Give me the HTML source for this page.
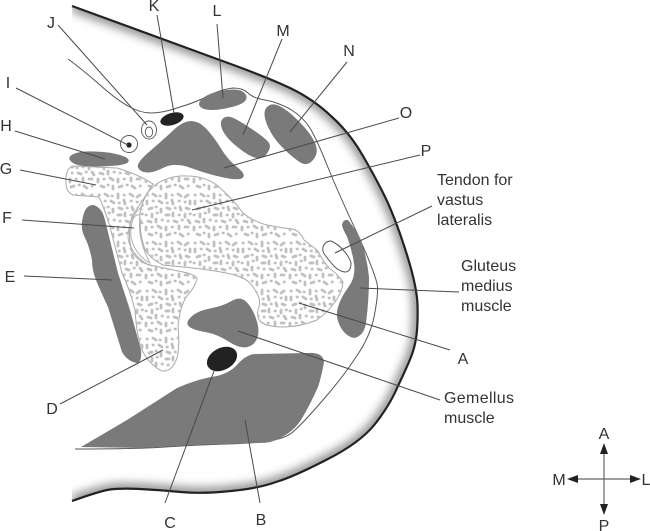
<!DOCTYPE html>
<html><head><meta charset="utf-8"><style>
html,body{margin:0;padding:0;background:#fff;width:650px;height:531px;overflow:hidden}
svg{display:block}
text{font-family:"Liberation Sans",sans-serif;font-size:16px;fill:#333}
.c{text-anchor:middle}
.l{stroke:#4a4a4a;stroke-width:1;fill:none}
</style></head><body>
<svg width="650" height="531" viewBox="0 0 650 531" xmlns="http://www.w3.org/2000/svg">
<defs>
<filter id="bl" x="-20%" y="-20%" width="140%" height="140%" color-interpolation-filters="sRGB"><feGaussianBlur stdDeviation="5"/></filter>
<clipPath id="body"><path d="M72,6 L217,59 Q267,77 290,88 Q313,99 331,116 Q350,133 363,156 Q377,180 387,201 Q397,223 407,255 Q417,287 417.5,305 Q418,323 416.5,335 Q415,347 411,357 Q407,367 398,386 Q390,405 375,424 Q360,443 326,460 Q293,477 276,482 Q260,488 231,491 Q203,494 181,492 Q160,490 140,489 Q120,488 110,489.5 Q100,491 72,501 Z"/></clipPath>
<clipPath id="gd"><path d="M72,166 L117,168 Q140,175 153,184 Q140,205 132,216 Q127,235 132,252 Q140,263 150,265 L183,272 Q197,275 197,279 Q195,287 187,296 Q180,305 178,327 Q180,345 177,358 Q172,372 162,371 Q150,365 143,352 Q137,340 135,310 Q130,290 122,273 L110,227 Q105,210 99,197 Q85,196 73,195 Q66,192 66,183 Q65,170 72,166Z"/></clipPath>
<clipPath id="pp"><path d="M140,213 Q143,195 155,185 Q170,175 187,176 Q205,176 218,186 Q232,198 243,213 Q254,222 267,225 Q282,228 293,229 Q301,232 304,240 Q312,246 318,251 Q322,260 329,268 Q338,274 343,282 Q342,293 335,302 Q327,313 317,320 Q300,327 283,327 Q270,327 262,323 Q256,318 258,310 Q262,300 256,292 Q250,280 240,277 Q228,272 193,268 L163,265 Q152,260 145,250 Q139,232 140,213Z"/></clipPath>
<pattern id="st" width="48" height="48" patternUnits="userSpaceOnUse">
<path d="M3,3l.4,0M9,2l3,2M16,4l.4,0M22,2l0,4M28,3l.4,0M34,2l3,2M41,5l3,-2M3,9l0,3M9,9l.4,0M15,9l3,2M23,11l.4,0M28,8l1,4M35,9l.4,0M41,10l.4,0M46,9l0,3M5,17l3,-1M12,15l.4,0M17,17l0,3M23,16l3,1M31,16l.4,0M36,15l1,3M42,16l3,1M2,23l.4,0M8,22l0,3M13,21l.4,0M22,23l3,0M29,21l0,3M35,23l.4,0M41,22l0,3M46,22l.4,0M4,29l3,1M12,27l0,3M18,28l.4,0M24,29l.4,0M30,29l3,1M38,28l.4,0M44,28l2,3M2,35l0,3M8,35l.4,0M14,34l3,2M22,35l0,3M28,35l.4,0M35,34l0,3M41,35l3,0M5,42l3,1M12,41l.4,0M17,42l0,3M23,43l3,-1M31,41l.4,0M36,42l3,2M44,42l.4,0" stroke="#c0c0c0" stroke-width="2.8" stroke-linecap="round" fill="none"/>
</pattern>
</defs>

<!-- skin shading -->
<g clip-path="url(#body)"><path d="M72,6 L217,59 Q267,77 290,88 Q313,99 331,116 Q350,133 363,156 Q377,180 387,201 Q397,223 407,255 Q417,287 417.5,305 Q418,323 416.5,335 Q415,347 411,357 Q407,367 398,386 Q390,405 375,424 Q360,443 326,460 Q293,477 276,482 Q260,488 231,491 Q203,494 181,492 Q160,490 140,489 Q120,488 110,489.5 Q100,491 72,501" fill="none" stroke="#7a7a7a" stroke-width="9" filter="url(#bl)"/></g>
<path d="M72,6 L217,59 Q267,77 290,88 Q313,99 331,116 Q350,133 363,156 Q377,180 387,201 Q397,223 407,255 Q417,287 417.5,305 Q418,323 416.5,335 Q415,347 411,357 Q407,367 398,386 Q390,405 375,424 Q360,443 326,460 Q293,477 276,482 Q260,488 231,491 Q203,494 181,492 Q160,490 140,489 Q120,488 110,489.5 Q100,491 72,501" fill="none" stroke="#222" stroke-width="2.2"/>

<!-- fascia -->
<path d="M68,59 Q83,70 100,85 Q117,100 128,106 Q140,113 151,113 Q163,113 180,107 Q197,102 210,95 Q223,89 233,88 Q243,88 248,93 Q253,98 265,100 Q277,102 290,109 Q303,117 310,128 Q317,140 327,165 Q337,190 357,233 Q377,277 377.5,287 Q378,297 374,317 Q370,337 356,357 Q343,377 323,400 Q303,423 295,430 Q287,438 273,440 Q260,443 226,444 Q193,445 165,447 Q137,449 75,449" fill="none" stroke="#555" stroke-width="1"/>

<!-- muscles -->
<g fill="#7a7a7a">
<path d="M203,98 Q209,93 223,90.5 Q237,88 242.5,91.5 Q248,95 246,99.5 Q244,104 232,107 Q220,110 211.5,110 Q203,110 200,106.5 Q197,103 203,98Z"/>
<path d="M223,118.5 Q227,115 233.5,118 Q240,121 254,130.5 Q268,140 269.5,144 Q271,148 267,153.5 Q263,159 256.5,158 Q250,157 238,147.5 Q226,138 222.5,130 Q219,122 223,118.5Z"/>
<path d="M267,107 Q272,102 280.5,106.5 Q289,111 300.5,123 Q312,135 315.5,144 Q319,153 313,160 Q307,167 299.5,162 Q292,157 282,147 Q272,137 267,124.5 Q262,112 267,107Z"/>
<path d="M149.5,151.5 Q163,140 173,130.5 Q183,121 191,121 Q199,121 206.5,129 Q214,137 221,148.5 Q228,160 237,167 Q246,174 243,177.5 Q240,181 223.5,177.5 Q207,174 191,168 Q175,162 164,167.5 Q153,173 146.5,172.5 Q140,172 138,167.5 Q136,163 149.5,151.5Z"/>
<path d="M73.5,154 Q80,151 95,151.5 Q110,152 120,155 Q130,158 128.5,161.5 Q127,165 110,166 Q93,167 83.5,166 Q74,165 70.5,161 Q67,157 73.5,154Z"/>
<path d="M82,222 Q84,205 93,205 Q102,207 105,220 L118,273 L130,310 L141,350 Q142,362 137,363 Q128,362 122,352 L108,307 Q100,290 96,280 Q92,270 92,260 Q89,245 85,238 Q81,230 82,222Z"/>
<path d="M191,317 Q197,311 210,308.5 Q223,306 231.5,301 Q240,296 246,301.5 Q252,307 256,318.5 Q260,330 257.5,337.5 Q255,345 247.5,347 Q240,349 228.5,341.5 Q217,334 205,332 Q193,330 189,326.5 Q185,323 191,317Z"/>
<path d="M81,447 L127,420 L177,388 Q197,379 217,376 Q229,373 236,366 Q246,354 256,354 L308,353 Q323,352 324,362 Q322,375 318,387 Q310,405 301,420 Q293,432 280,438 Q272,443 260,443 L193,445 L140,448 Z"/>
<path d="M342,225 Q343,219 348,220 Q356,230 361,240 Q367,258 369,277 Q369,300 366,323 Q364,336 354,338 Q345,336 340,326 Q335,316 338,307 Q341,297 348.5,287 Q356,277 354,263.5 Q352,250 347,236.5 Q343,230 342,225Z"/>
</g>

<!-- bones -->
<path d="M72,166 L117,168 Q140,175 153,184 Q140,205 132,216 Q127,235 132,252 Q140,263 150,265 L183,272 Q197,275 197,279 Q195,287 187,296 Q180,305 178,327 Q180,345 177,358 Q172,372 162,371 Q150,365 143,352 Q137,340 135,310 Q130,290 122,273 L110,227 Q105,210 99,197 Q85,196 73,195 Q66,192 66,183 Q65,170 72,166Z" fill="#fff" stroke="#a8a8a8" stroke-width="1"/>
<rect x="60" y="160" width="150" height="220" fill="url(#st)" clip-path="url(#gd)"/>
<path d="M140,213 Q143,195 155,185 Q170,175 187,176 Q205,176 218,186 Q232,198 243,213 Q254,222 267,225 Q282,228 293,229 Q301,232 304,240 Q312,246 318,251 Q322,260 329,268 Q338,274 343,282 Q342,293 335,302 Q327,313 317,320 Q300,327 283,327 Q270,327 262,323 Q256,318 258,310 Q262,300 256,292 Q250,280 240,277 Q228,272 193,268 L163,265 Q152,260 145,250 Q139,232 140,213Z" fill="#fff" stroke="#a8a8a8" stroke-width="1"/>
<rect x="135" y="170" width="215" height="165" fill="url(#st)" clip-path="url(#pp)"/>
<!-- acetabular crescent -->
<path d="M134,217 Q137,214 140,215 Q137,240 150,263 Q136,256 131,238 Q130,225 134,217Z" fill="#fff" stroke="#aaa" stroke-width=".9"/>
<path d="M144,205 Q128,216 128,238 Q131,256 151,266" fill="none" stroke="#aaa" stroke-width=".9"/>

<!-- vessels / nerves -->
<ellipse cx="172" cy="119" rx="12" ry="6" transform="rotate(-17 172 119)" fill="#222"/>
<ellipse cx="222" cy="359" rx="16" ry="11" transform="rotate(-27 222 359)" fill="#222"/>
<ellipse cx="149" cy="130" rx="7.5" ry="9" fill="#fff" stroke="#555" stroke-width=".9"/>
<ellipse cx="149" cy="132" rx="3.7" ry="5" fill="#fff" stroke="#555" stroke-width=".9"/>
<circle cx="129" cy="144" r="8.5" fill="#fff" stroke="#555" stroke-width=".9"/>
<circle cx="129" cy="145" r="2.6" fill="#222"/>
<path d="M323,247 Q325,241 331,241 Q338,244 343,250 Q349,256 351,263 Q351,272 345,272 Q339,271 335,267 Q330,262 325,255 Q322,251 323,247Z" fill="#fff" stroke="#555" stroke-width="1"/>

<!-- leaders -->
<g class="l">
<path d="M157,15 L174,113"/>
<path d="M58,25 L147,125"/>
<path d="M217,24 L223,98"/>
<path d="M282,39 L243,135"/>
<path d="M347,62 L290,132"/>
<path d="M399,118 L224,168"/>
<path d="M420,155 L192,210"/>
<path d="M16,88 L128,145"/>
<path d="M15,131 L105,159"/>
<path d="M20,170 L96,185"/>
<path d="M22,220 L134,228"/>
<path d="M24,276 L112,280"/>
<path d="M60,404 L163,350"/>
<path d="M165,503 L214,371"/>
<path d="M260,503 L245,420"/>
<path d="M450,350 L299,303"/>
<path d="M440,400 L238,331"/>
<path d="M432,206 L335,253"/>
<path d="M459,292 L360,288"/>
</g>

<!-- labels -->
<text class="c" x="154" y="11">K</text>
<text class="c" x="51" y="28">J</text>
<text class="c" x="217" y="16">L</text>
<text class="c" x="283" y="36">M</text>
<text class="c" x="349" y="56">N</text>
<text class="c" x="406" y="118">O</text>
<text class="c" x="426" y="156">P</text>
<text class="c" x="8" y="88">I</text>
<text class="c" x="6" y="131">H</text>
<text class="c" x="6" y="174">G</text>
<text class="c" x="7" y="223">F</text>
<text class="c" x="10" y="282">E</text>
<text class="c" x="52" y="414">D</text>
<text class="c" x="170" y="528">C</text>
<text class="c" x="261" y="525">B</text>
<text class="c" x="463" y="364">A</text>
<text x="437" y="185">Tendon for</text>
<text x="437" y="205">vastus</text>
<text x="437" y="225">lateralis</text>
<text x="461" y="271">Gluteus</text>
<text x="461" y="291">medius</text>
<text x="461" y="311">muscle</text>
<text x="444" y="403" textLength="70">Gemellus</text>
<text x="444" y="423">muscle</text>

<!-- compass -->
<path d="M604,450 V508 M574,479 H634" stroke="#666" stroke-width="1.2" fill="none"/>
<path d="M604,443 L608,454 L600,454Z M604,515 L608,504 L600,504Z M567,479 L578,475 L578,483Z M641,479 L630,475 L630,483Z" fill="#222"/>
<text class="c" x="604" y="439">A</text>
<text class="c" x="604" y="531">P</text>
<text class="c" x="559" y="485">M</text>
<text class="c" x="646" y="485">L</text>
</svg>
</body></html>
